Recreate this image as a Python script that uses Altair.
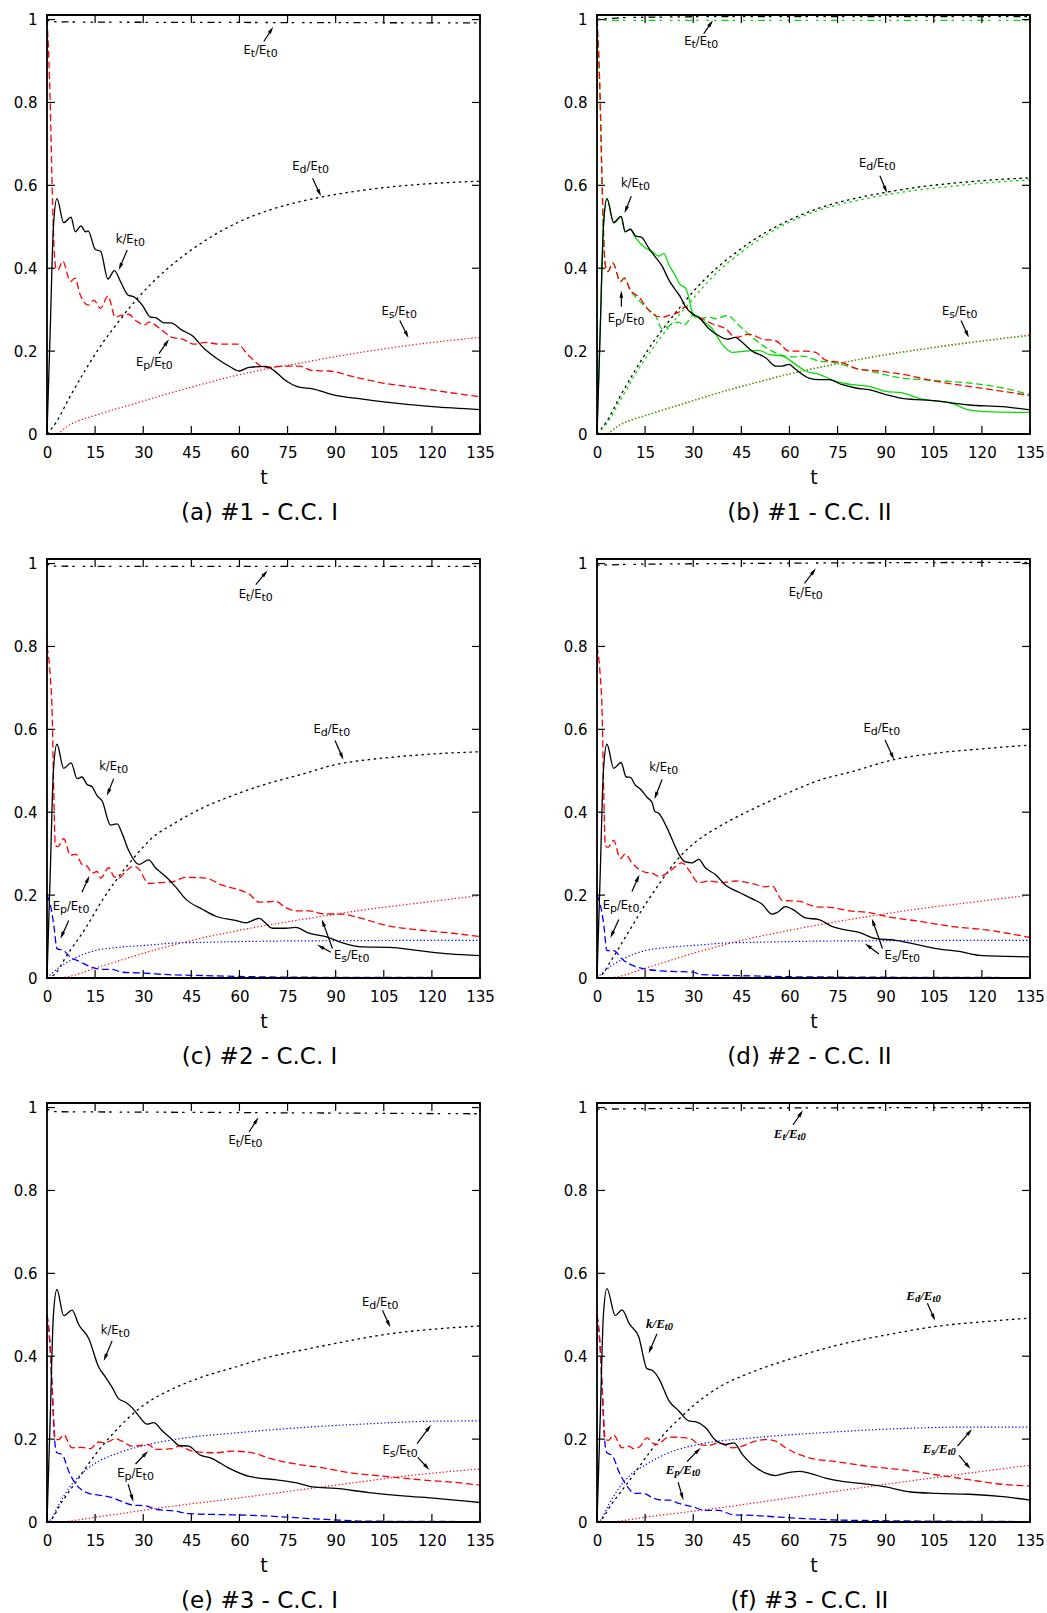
import math
import pandas as pd
import altair as alt

# ---------------- layout / axes ----------------
W, H = 433, 419
XMAX, YMAX = 135, 1.011
XT = [0, 15, 30, 45, 60, 75, 90, 105, 120, 135]
YT = [0, 0.2, 0.4, 0.6, 0.8, 1.0]
CAPTIONS = ["(a) #1 - C.C. I", "(b) #1 - C.C. II", "(c) #2 - C.C. I",
            "(d) #2 - C.C. II", "(e) #3 - C.C. I", "(f) #3 - C.C. II"]

RED, BLUE, GREEN, BLACK = "#ff0000", "#0000ff", "#00dd00", "#000000"

# ---------------- data: (t, value) pairs ----------------
# panel (a)
A_ET = [(0, 1.0), (1.5, 0.995), (10, 0.994), (60, 0.993), (135, 0.992)]
A_K = [(0, 0), (1, 0.25), (2, 0.5), (3.1, 0.568), (5.2, 0.51), (7.5, 0.523), (8.8, 0.488), (10.6, 0.502),
       (12, 0.488), (12.8, 0.49), (15.1, 0.445), (16.7, 0.441), (19, 0.374), (21, 0.394), (22.9, 0.368),
       (25.3, 0.335), (27.1, 0.331), (29.7, 0.311), (32.3, 0.282), (33.8, 0.281), (36.6, 0.268), (38.5, 0.268),
       (42.2, 0.25), (45.3, 0.237), (48.9, 0.207), (52.6, 0.184), (56.7, 0.164), (59.9, 0.152), (63, 0.161),
       (68.2, 0.163), (70.8, 0.153), (74.4, 0.129), (78.6, 0.113), (82.8, 0.109), (89, 0.095), (98.4, 0.084),
       (105.7, 0.077), (120.2, 0.066), (135, 0.059)]
A_EP = [(0, 1.0), (0.6, 0.9), (1, 0.8), (1.6, 0.6), (2.2, 0.45), (2.8, 0.4), (3.4, 0.396), (4.9, 0.417),
        (7.3, 0.368), (8.7, 0.376), (10.4, 0.335), (12.8, 0.311), (14.6, 0.323), (16.7, 0.303), (19, 0.333),
        (21.3, 0.282), (22.9, 0.286), (25.5, 0.289), (27.6, 0.274), (30.7, 0.264), (31.7, 0.27), (35.9, 0.25),
        (39, 0.233), (42.2, 0.229), (45.8, 0.217), (49.4, 0.221), (53.6, 0.217), (59.3, 0.217), (63, 0.188),
        (68.2, 0.16), (73.4, 0.164), (78.6, 0.164), (82.8, 0.153), (87.9, 0.152), (95.2, 0.139),
        (104.6, 0.123), (116, 0.111), (125.4, 0.1), (135, 0.09)]
A_ED = [(0, 0), (3, 0.03), (6.8, 0.085), (12, 0.155), (17.2, 0.218), (22.4, 0.272), (27.6, 0.322),
        (32.8, 0.365), (38, 0.402), (43.2, 0.434), (48.4, 0.462), (58.8, 0.508), (69.2, 0.54), (79.6, 0.562),
        (90, 0.578), (100.4, 0.59), (110.9, 0.599), (121.3, 0.605), (135, 0.61)]
A_ES = [(0, 0), (2.5, 0.0), (6.8, 0.021), (17.2, 0.05), (27.6, 0.074), (38, 0.098), (48.4, 0.12),
        (58.8, 0.141), (69.2, 0.158), (79.6, 0.172), (90, 0.187), (100.4, 0.2), (110.9, 0.212),
        (121.3, 0.222), (135, 0.233)]

# panel (b)  (black = reference run, green = second run)
B_ET = [(0, 1.0), (10, 1.005), (40, 1.007), (135, 1.007)]
B_ET_G = [(0, 1.0), (5, 0.998), (135, 0.998)]
B_K = [(0, 0), (1, 0.25), (2, 0.5), (3.1, 0.568), (5.2, 0.51), (7.5, 0.525), (8.8, 0.488), (10.4, 0.494),
       (12, 0.478), (14, 0.474), (16.1, 0.449), (17.2, 0.437), (20.3, 0.405), (22.4, 0.372), (24.5, 0.347),
       (26, 0.331), (27.6, 0.307), (29.7, 0.29), (31.7, 0.282), (34.9, 0.254), (38, 0.237), (40.6, 0.229),
       (43.2, 0.233), (44.7, 0.225), (48.4, 0.2), (52.6, 0.184), (55.7, 0.164), (57.8, 0.164), (59.9, 0.168),
       (61.9, 0.156), (66.1, 0.135), (69.2, 0.131), (72.3, 0.131), (76.5, 0.119), (80.7, 0.111), (84.8, 0.107),
       (90, 0.095), (95.2, 0.086), (105.7, 0.08), (116, 0.07), (126.5, 0.066), (135, 0.058)]
B_K_G = [(0, 0), (1, 0.25), (2, 0.5), (3.1, 0.568), (5.2, 0.51), (7.5, 0.525), (8.8, 0.488), (10.4, 0.494),
         (12, 0.474), (15.1, 0.449), (17.2, 0.44), (19.3, 0.429), (20.8, 0.436), (22.4, 0.409), (24, 0.388),
         (26, 0.36), (27.6, 0.352), (28.6, 0.331), (29.7, 0.294), (32.8, 0.274), (35.9, 0.254), (39, 0.217),
         (42.2, 0.197), (46.3, 0.2), (50.5, 0.202), (53.6, 0.192), (57.8, 0.188), (61.9, 0.168), (65, 0.152),
         (69.2, 0.144), (74.4, 0.127), (79.6, 0.119), (84.8, 0.115), (90, 0.103), (95.2, 0.099),
         (100.4, 0.086), (110.9, 0.073), (116, 0.058), (121.3, 0.054), (135, 0.052)]
B_EP = [(0, 1.0), (0.6, 0.9), (1, 0.8), (1.6, 0.6), (2.2, 0.45), (2.8, 0.4), (3.4, 0.392), (4.9, 0.413),
        (7.3, 0.368), (8.5, 0.376), (10.4, 0.347), (13, 0.331), (16.1, 0.299), (18.2, 0.286), (20.3, 0.282),
        (22.4, 0.286), (25.5, 0.294), (27.6, 0.307), (29.7, 0.29), (32.8, 0.278), (35.9, 0.266), (40.1, 0.254),
        (43.2, 0.233), (47.4, 0.241), (51.5, 0.229), (55.7, 0.225), (59.9, 0.2), (65, 0.2), (68.2, 0.197),
        (71.3, 0.178), (76.5, 0.172), (81.7, 0.156), (87.9, 0.152), (95.2, 0.144), (105.7, 0.127),
        (116, 0.115), (126.5, 0.103), (135, 0.093)]
B_EP_G = [(0, 1.0), (0.6, 0.9), (1, 0.8), (1.6, 0.6), (2.2, 0.45), (2.8, 0.4), (3.4, 0.392), (4.9, 0.413),
          (7.3, 0.368), (8.5, 0.376), (10.4, 0.347), (13, 0.323), (16.1, 0.3), (18.2, 0.286), (20.3, 0.254),
          (21.9, 0.258), (23.4, 0.266), (25.5, 0.27), (27, 0.262), (28.6, 0.274), (29.7, 0.286), (31.7, 0.278),
          (34.9, 0.282), (37, 0.278), (40.6, 0.286), (44.3, 0.262), (48.4, 0.233), (52.6, 0.209), (56.7, 0.192),
          (61, 0.186), (64, 0.188), (69.2, 0.176), (74.4, 0.172), (79.6, 0.16), (84.8, 0.152), (95.2, 0.135),
          (105.7, 0.129), (116, 0.123), (126.5, 0.111), (135, 0.095)]
B_ED = [(0, 0), (3, 0.03), (6.8, 0.085), (12, 0.155), (17.2, 0.218), (22.4, 0.272), (27.6, 0.322),
        (32.8, 0.367), (38, 0.405), (43.2, 0.437), (48.4, 0.466), (58.8, 0.512), (69.2, 0.545), (79.6, 0.567),
        (90, 0.583), (100.4, 0.596), (110.9, 0.605), (121.3, 0.612), (135, 0.618)]
B_ED_G = [(0, 0), (3, 0.025), (6.8, 0.075), (12, 0.145), (17.2, 0.205), (22.4, 0.258), (27.6, 0.305),
          (32.8, 0.352), (38, 0.394), (43.2, 0.428), (48.4, 0.458), (58.8, 0.507), (69.2, 0.54), (79.6, 0.561),
          (90, 0.577), (100.4, 0.589), (110.9, 0.598), (121.3, 0.606), (135, 0.613)]
B_ES = [(0, 0), (2.5, 0), (6.8, 0.021), (17.2, 0.05), (27.6, 0.075), (38, 0.1), (48.4, 0.122), (58.8, 0.143),
        (69.2, 0.161), (79.6, 0.177), (90, 0.192), (100.4, 0.204), (110.9, 0.216), (121.3, 0.226), (135, 0.239)]
B_ES_G = [(0, 0), (2.5, 0), (6.8, 0.02), (17.2, 0.049), (27.6, 0.074), (38, 0.099), (48.4, 0.121),
          (58.8, 0.142), (69.2, 0.16), (79.6, 0.176), (90, 0.19), (100.4, 0.203), (110.9, 0.214),
          (121.3, 0.225), (135, 0.237)]

# panel (c)
C_ET = [(0, 1.0), (1.5, 0.994), (20, 0.993), (135, 0.993)]
C_K = [(0, 0), (1, 0.25), (2, 0.5), (3.1, 0.564), (5.2, 0.506), (7.5, 0.519), (9.4, 0.481), (10.9, 0.485),
       (12.5, 0.467), (14, 0.462), (15.6, 0.44), (17.2, 0.427), (19.8, 0.369), (21.9, 0.372), (23.4, 0.349),
       (25.5, 0.307), (28.6, 0.274), (31.7, 0.285), (33.8, 0.266), (37, 0.245), (40.1, 0.22), (43.2, 0.191),
       (48.4, 0.166), (52.6, 0.149), (58.8, 0.139), (61.9, 0.133), (66.1, 0.144), (70.3, 0.12), (74.4, 0.12),
       (77.5, 0.122), (81.7, 0.108), (86.9, 0.1), (92.1, 0.085), (98.4, 0.075), (106.7, 0.074), (116, 0.066),
       (125.4, 0.058), (135, 0.054)]
C_EP = [(0, 0.8), (1, 0.73), (1.6, 0.64), (2.1, 0.45), (2.6, 0.32), (3.4, 0.317), (5.2, 0.336), (7.3, 0.296),
        (9, 0.299), (10.9, 0.274), (12.5, 0.27), (14, 0.253), (15.6, 0.257), (16.7, 0.241), (19.3, 0.266),
        (20.8, 0.245), (22.4, 0.241), (24.5, 0.257), (27.1, 0.27), (28.6, 0.263), (31.7, 0.228), (34.9, 0.23),
        (39, 0.232), (43.2, 0.243), (49.4, 0.241), (54.6, 0.224), (60.9, 0.21), (63, 0.203), (66.1, 0.183),
        (69.2, 0.184), (71.3, 0.185), (74.4, 0.17), (77.5, 0.162), (81.7, 0.162), (85.9, 0.155), (92.1, 0.154),
        (98.4, 0.143), (105.7, 0.127), (116, 0.116), (126.5, 0.108), (135, 0.1)]
C_EP_B = [(0, 0.2), (1, 0.178), (2.1, 0.129), (3.1, 0.071), (5.2, 0.066), (7.3, 0.05), (9.9, 0.041),
          (13, 0.029), (17.2, 0.021), (20.3, 0.021), (23.4, 0.014), (29.7, 0.012), (38, 0.008), (48.4, 0.006),
          (58.8, 0.004), (74.4, 0.002), (135, 0.001)]
C_ED = [(0, 0), (1.6, 0.004), (6.8, 0.062), (12, 0.12), (17.2, 0.187), (22.4, 0.245), (27.6, 0.295),
        (32.8, 0.338), (40.1, 0.375), (48.4, 0.41), (58.8, 0.443), (69.2, 0.47), (79.6, 0.492), (90, 0.515),
        (100.4, 0.527), (110.9, 0.535), (121.3, 0.541), (135, 0.546)]
C_ES = [(0, 0), (3, 0), (17.2, 0.029), (27.6, 0.054), (44.2, 0.089), (60, 0.115), (85.9, 0.149),
        (100.4, 0.166), (115, 0.18), (135, 0.199)]
C_ES_B = [(0, 0), (3, 0.021), (8.7, 0.048), (13.9, 0.064), (22.4, 0.074), (32.8, 0.08), (38.9, 0.084),
          (48.4, 0.086), (69.2, 0.089), (90, 0.09), (135, 0.091)]

# panel (d)
D_ET = [(0, 0.996), (10, 0.998), (40, 1.0), (135, 1.003)]
D_K = [(0, 0), (1, 0.25), (2, 0.5), (3.1, 0.564), (5.2, 0.506), (7.5, 0.52), (9.1, 0.485), (10.4, 0.484),
       (12, 0.465), (13.5, 0.456), (15.6, 0.436), (17.2, 0.423), (18, 0.402), (19.3, 0.397), (21.9, 0.361),
       (24, 0.324), (25.5, 0.299), (27.6, 0.28), (29.7, 0.278), (31.7, 0.286), (33.8, 0.266), (37, 0.249),
       (40.1, 0.224), (44.2, 0.207), (48.4, 0.191), (51.5, 0.178), (54.6, 0.154), (56.2, 0.158), (58.8, 0.172),
       (60.9, 0.166), (65, 0.145), (69.2, 0.141), (73.4, 0.124), (77.5, 0.116), (81.7, 0.11), (86.9, 0.095),
       (93.2, 0.091), (98.4, 0.083), (105.7, 0.071), (112.9, 0.064), (120.2, 0.054), (135, 0.051)]
D_EP = [(0, 0.8), (1, 0.73), (1.6, 0.64), (2.1, 0.45), (2.6, 0.32), (3.4, 0.315), (5.2, 0.332), (7.3, 0.288),
        (8.8, 0.299), (10.9, 0.278), (13, 0.263), (15.1, 0.255), (17.2, 0.253), (19.3, 0.245), (21.9, 0.253),
        (24, 0.266), (26.5, 0.278), (28.6, 0.261), (31.7, 0.23), (34.9, 0.234), (39, 0.23), (43.2, 0.234),
        (48.4, 0.228), (52.6, 0.22), (54.6, 0.222), (57.8, 0.187), (63, 0.185), (68.2, 0.172), (73.4, 0.17),
        (78.6, 0.162), (84.8, 0.158), (91.1, 0.147), (100.4, 0.137), (110.9, 0.124), (121.3, 0.116),
        (135, 0.098)]
D_EP_B = [(0, 0.2), (1, 0.178), (2.1, 0.129), (3.1, 0.066), (5.2, 0.066), (7.8, 0.046), (13, 0.025),
          (20.3, 0.017), (29.7, 0.014), (32.8, 0.008), (48.4, 0.005), (60, 0.003), (135, 0.001)]
D_ED = [(0, 0), (1, 0.004), (4.7, 0.046), (9.9, 0.112), (15.1, 0.178), (20.3, 0.237), (25.5, 0.29),
        (30.7, 0.328), (38, 0.365), (48.4, 0.407), (58.8, 0.444), (69.2, 0.477), (79.6, 0.498), (92.6, 0.527),
        (105, 0.542), (120, 0.553), (135, 0.562)]
D_ES = [(0, 0), (3, 0), (17.2, 0.029), (27.6, 0.054), (44.2, 0.089), (60, 0.115), (85.9, 0.15),
        (100.4, 0.167), (115, 0.181), (135, 0.2)]
D_ES_B = [(0, 0), (3, 0.021), (8.7, 0.048), (13.9, 0.064), (22.4, 0.074), (32.8, 0.08), (38.9, 0.084),
          (48.4, 0.086), (69.2, 0.089), (90, 0.09), (135, 0.091)]

# panel (e)
E_ET = [(0, 0.996), (3, 0.99), (30, 0.989), (135, 0.985)]
E_K = [(0, 0), (1, 0.25), (2, 0.5), (3.1, 0.561), (5.2, 0.498), (7.8, 0.511), (9.9, 0.476), (13, 0.443),
       (16.1, 0.374), (18.2, 0.35), (20.3, 0.325), (22.4, 0.297), (24.5, 0.289), (26.5, 0.276), (28.6, 0.256),
       (31.2, 0.236), (33.3, 0.24), (35.9, 0.22), (39, 0.199), (41.1, 0.185), (44.2, 0.183), (47.4, 0.163),
       (51.5, 0.153), (56.7, 0.13), (63, 0.11), (66.1, 0.106), (71.3, 0.102), (77.5, 0.095), (82.8, 0.085),
       (90, 0.081), (100.4, 0.071), (110.9, 0.063), (121.3, 0.057), (135, 0.047)]
E_EP = [(0, 0.5), (1, 0.42), (1.6, 0.325), (2.6, 0.199), (3.6, 0.199), (5.2, 0.21), (7.8, 0.179),
        (10.9, 0.18), (13.5, 0.177), (16.1, 0.193), (18.2, 0.191), (21.3, 0.201), (23.4, 0.195), (26.5, 0.183),
        (29.7, 0.185), (31.7, 0.187), (33.8, 0.175), (39, 0.177), (41.1, 0.183), (45.3, 0.171), (52.6, 0.167),
        (57.8, 0.171), (64, 0.167), (69.2, 0.154), (77.5, 0.14), (84.8, 0.132), (95.2, 0.118), (105.7, 0.11),
        (116, 0.102), (126.5, 0.096), (135, 0.089)]
E_EP_B = [(0, 0.5), (1, 0.42), (1.6, 0.325), (2.4, 0.195), (3.1, 0.167), (4.7, 0.163), (6.8, 0.122),
          (8.8, 0.093), (10.9, 0.077), (13, 0.069), (16.1, 0.065), (20.3, 0.059), (23.4, 0.049), (26.5, 0.041),
          (30.7, 0.039), (33.8, 0.031), (40.1, 0.026), (44.2, 0.02), (53.6, 0.018), (64, 0.016), (74.4, 0.012),
          (84.8, 0.007), (100.4, 0.002), (135, 0.001)]
E_ED = [(0, 0), (1, 0.004), (4.7, 0.049), (9.9, 0.106), (15.1, 0.163), (20.3, 0.211), (25.5, 0.252),
        (30.7, 0.285), (38, 0.317), (48.4, 0.35), (58.8, 0.374), (69.2, 0.398), (79.6, 0.415), (90, 0.431),
        (106.7, 0.454), (120, 0.465), (135, 0.473)]
E_ES_B = [(0, 0), (1, 0.004), (3.6, 0.041), (6.8, 0.081), (9.9, 0.11), (15.1, 0.142), (22.4, 0.167),
          (32.8, 0.189), (43.2, 0.203), (58.8, 0.215), (79.6, 0.228), (100.4, 0.237), (119.2, 0.243),
          (135, 0.244)]
E_ES = [(0, 0), (2.6, 0), (17.2, 0.014), (38, 0.037), (58.8, 0.057), (90, 0.089), (119, 0.117), (135, 0.128)]

# panel (f)
F_ET = [(0, 0.996), (10, 0.997), (60, 0.999), (135, 1.0)]
F_K = [(0, 0), (1, 0.25), (2, 0.5), (3.1, 0.563), (5.7, 0.498), (7.8, 0.512), (10.1, 0.478), (13, 0.447),
       (15.6, 0.37), (17.2, 0.366), (19.3, 0.346), (22.4, 0.293), (25.5, 0.268), (28.6, 0.244), (30.7, 0.242),
       (33.8, 0.228), (37, 0.197), (40.1, 0.187), (42.7, 0.191), (45.3, 0.163), (48.4, 0.138), (52.6, 0.118),
       (55.7, 0.112), (58.8, 0.118), (63, 0.122), (66.1, 0.118), (71.3, 0.106), (76.5, 0.098), (84.8, 0.091),
       (90, 0.085), (97.3, 0.073), (105.7, 0.069), (116, 0.067), (126.5, 0.061), (135, 0.053)]
F_EP = [(0, 0.5), (1, 0.42), (1.6, 0.325), (2.6, 0.199), (3.6, 0.197), (5.2, 0.21), (7.8, 0.179), (9.9, 0.183),
        (11.4, 0.177), (13.5, 0.183), (15.6, 0.203), (17.2, 0.191), (18.7, 0.187), (22.4, 0.205), (27.6, 0.203),
        (29.7, 0.199), (31.7, 0.187), (34.9, 0.185), (38, 0.191), (42.2, 0.179), (45.3, 0.183), (48.4, 0.193),
        (52.6, 0.199), (55.7, 0.195), (58.8, 0.179), (63, 0.163), (67.1, 0.153), (74.4, 0.146), (84.8, 0.134),
        (95.2, 0.126), (105.7, 0.114), (116, 0.102), (126.5, 0.091), (135, 0.087)]
F_EP_B = [(0, 0.5), (1, 0.42), (1.6, 0.325), (2.4, 0.195), (3.1, 0.167), (4.7, 0.161), (6.8, 0.122),
          (8.8, 0.093), (12, 0.069), (14.6, 0.069), (17.2, 0.059), (20.3, 0.053), (22.4, 0.053), (25.5, 0.045),
          (29.7, 0.037), (33.8, 0.028), (38, 0.028), (42.2, 0.018), (48.4, 0.016), (56.7, 0.012), (65, 0.008),
          (79.6, 0.004), (135, 0.001)]
F_ED = [(0, 0), (1, 0.004), (4.7, 0.045), (9.9, 0.098), (15.1, 0.154), (20.3, 0.207), (25.5, 0.248),
        (30.7, 0.285), (38, 0.325), (48.4, 0.362), (58.8, 0.39), (69.2, 0.415), (79.6, 0.435), (90, 0.451),
        (105.7, 0.472), (120, 0.483), (135, 0.492)]
F_ES_B = [(0, 0), (1, 0.004), (3.6, 0.041), (6.8, 0.081), (9.9, 0.11), (15.1, 0.138), (22.4, 0.167),
          (32.8, 0.189), (48.4, 0.203), (69.2, 0.215), (90, 0.224), (116, 0.229), (135, 0.229)]
F_ES = [(0, 0), (2.6, 0), (17.2, 0.014), (38, 0.034), (58.8, 0.057), (90, 0.091), (116, 0.118), (135, 0.137)]

# annotation labels (name, t, value) and arrows (t1, v1, t2, v2)
A_LABELS = [("Et", 66.6, 0.925), ("k", 26, 0.467), ("Ep", 33.5, 0.172), ("Ed", 82.2, 0.644), ("Es", 109.8, 0.294)]
A_ARROWS = [(67.6, 0.947, 70.5, 0.982), (25, 0.444, 22.4, 0.396), (34.9, 0.194, 38, 0.228),
            (82.8, 0.617, 85.4, 0.574), (110, 0.274, 112.7, 0.232)]
B_LABELS = [("Et", 32.5, 0.945), ("k", 12, 0.603), ("Ep", 9.1, 0.277), ("Ed", 87.4, 0.651), ("Es", 113.1, 0.294)]
B_ARROWS = [(33.3, 0.966, 36.1, 0.998), (10.7, 0.574, 8.6, 0.533), (7.6, 0.307, 7.6, 0.346),
            (88.2, 0.623, 90.4, 0.582), (113.5, 0.274, 115.9, 0.233)]
C_LABELS = [("Et", 65.1, 0.925), ("k", 20.8, 0.508), ("Ep", 7.5, 0.172), ("Ed", 88.8, 0.598), ("Es", 95, 0.054)]
C_ARROWS = [(65.1, 0.949, 68.7, 0.983), (20.8, 0.481, 18.7, 0.44), (10.9, 0.207, 13.2, 0.246),
            (6.8, 0.139, 4.2, 0.095), (89.8, 0.573, 92.4, 0.527), (89, 0.071, 85.7, 0.141),
            (88.5, 0.062, 84.3, 0.08)]
D_LABELS = [("Et", 65.1, 0.928), ("k", 20.8, 0.506), ("Ep", 7.5, 0.174), ("Ed", 88.8, 0.6), ("Es", 95.2, 0.052)]
D_ARROWS = [(64.7, 0.952, 68.2, 0.988), (20.3, 0.479, 17.9, 0.432), (10.9, 0.209, 13.2, 0.249),
            (6.8, 0.141, 4.2, 0.097), (89.8, 0.574, 92.6, 0.527), (89, 0.071, 85.7, 0.143),
            (87.9, 0.058, 83.6, 0.083)]
E_LABELS = [("Et", 61.9, 0.919), ("k", 21.3, 0.462), ("Ep", 27.6, 0.115), ("Ed", 103.9, 0.528), ("Es", 110.1, 0.172)]
E_ARROWS = [(63, 0.941, 65.9, 0.976), (20.3, 0.437, 17.7, 0.389), (27.6, 0.14, 31.5, 0.171),
            (25.3, 0.091, 26.9, 0.049), (104.6, 0.511, 107, 0.47), (115.4, 0.189, 119.7, 0.234),
            (115.6, 0.156, 119.2, 0.126)]
F_LABELS = [("Et", 60.1, 0.935), ("k", 19.5, 0.478), ("Ep", 26.8, 0.126), ("Ed", 101.8, 0.545), ("Es", 106.7, 0.175)]
F_ARROWS = [(61.1, 0.958, 64.2, 0.993), (18.7, 0.454, 16.1, 0.407), (28.1, 0.146, 32.3, 0.179),
            (25.3, 0.096, 26.9, 0.053), (103, 0.528, 105.4, 0.486), (112.4, 0.183, 116.9, 0.224),
            (112.9, 0.161, 116.4, 0.128)]

LABEL_PARTS = {
    "Et": [("E", 0), ("t", 1), ("/E", 0), ("t0", 1)],
    "k": [("k/E", 0), ("t0", 1)],
    "Ep": [("E", 0), ("p", 1), ("/E", 0), ("t0", 1)],
    "Ed": [("E", 0), ("d", 1), ("/E", 0), ("t0", 1)],
    "Es": [("E", 0), ("s", 1), ("/E", 0), ("t0", 1)],
}

# ---------------- styles ----------------
STYLES = {
    "solid": dict(strokeWidth=1.3),
    "dash": dict(strokeWidth=1.3, strokeDash=[7, 3.5]),
    "dot": dict(strokeWidth=1.3, strokeDash=[2.5, 3.5]),
    "fine": dict(strokeWidth=1.2, strokeDash=[1.3, 2.2]),
    "total": dict(strokeWidth=1.3, strokeDash=[2.5, 5, 2.5, 5, 7, 4, 2.5, 8]),
}
SANS = dict(font="DejaVu Sans", size=11.5, sub=11, dy=3,
            w={"E": .632, "k": .579, "/": .337, "t": .392, "0": .636, "d": .635, "p": .635, "s": .521})
SERIF = dict(font="Liberation Serif", size=13, sub=10.5, dy=3,
             w={"E": .667, "k": .5, "/": .278, "t": .278, "0": .5, "d": .5, "p": .5, "s": .389})

PANELS = [
    dict(lines=[(A_ET, BLACK, "total"), (A_ED, BLACK, "dot"), (A_ES, RED, "fine"), (A_EP, RED, "dash"),
                (A_K, BLACK, "solid")], labels=A_LABELS, arrows=A_ARROWS, fontset=SANS),
    dict(lines=[(B_ET, BLACK, "total"), (B_ET_G, GREEN, "total"), (B_ED, BLACK, "dot"), (B_ED_G, GREEN, "dot"),
                (B_ES, RED, "fine"), (B_ES_G, GREEN, "fine"), (B_EP_G, GREEN, "dash"), (B_EP, RED, "dash"),
                (B_K_G, GREEN, "solid"), (B_K, BLACK, "solid")], labels=B_LABELS, arrows=B_ARROWS, fontset=SANS),
    dict(lines=[(C_ET, BLACK, "total"), (C_ED, BLACK, "dot"), (C_ES, RED, "fine"), (C_ES_B, BLUE, "fine"),
                (C_EP_B, BLUE, "dash"), (C_EP, RED, "dash"), (C_K, BLACK, "solid")],
         labels=C_LABELS, arrows=C_ARROWS, fontset=SANS),
    dict(lines=[(D_ET, BLACK, "total"), (D_ED, BLACK, "dot"), (D_ES, RED, "fine"), (D_ES_B, BLUE, "fine"),
                (D_EP_B, BLUE, "dash"), (D_EP, RED, "dash"), (D_K, BLACK, "solid")],
         labels=D_LABELS, arrows=D_ARROWS, fontset=SANS),
    dict(lines=[(E_ET, BLACK, "total"), (E_ED, BLACK, "dot"), (E_ES, RED, "fine"), (E_ES_B, BLUE, "fine"),
                (E_EP_B, BLUE, "dash"), (E_EP, RED, "dash"), (E_K, BLACK, "solid")],
         labels=E_LABELS, arrows=E_ARROWS, fontset=SANS),
    dict(lines=[(F_ET, BLACK, "total"), (F_ED, BLACK, "dot"), (F_ES, RED, "fine"), (F_ES_B, BLUE, "fine"),
                (F_EP_B, BLUE, "dash"), (F_EP, RED, "dash"), (F_K, BLACK, "solid")],
         labels=F_LABELS, arrows=F_ARROWS, fontset=SERIF),
]

# ---------------- encodings ----------------
X = alt.X("t:Q", scale=alt.Scale(domain=[0, XMAX], nice=False, zero=False),
          axis=alt.Axis(values=XT, title="t", grid=False, ticks=False, tickSize=0, domain=False,
                        labelFont="DejaVu Sans", labelFontSize=15, labelColor="black", labelPadding=11,
                        labelFlush=False, labelOverlap=False,
                        titleFont="DejaVu Sans", titleFontSize=19, titleFontWeight="normal",
                        titleColor="black", titlePadding=8))
Y = alt.Y("v:Q", scale=alt.Scale(domain=[0, YMAX], nice=False, zero=False),
          axis=alt.Axis(values=YT, title=None, grid=False, ticks=False, tickSize=0, domain=False, format="~g",
                        labelFont="DejaVu Sans", labelFontSize=15, labelColor="black", labelPadding=10,
                        labelFlush=False, labelOverlap=False))

SX, SY = W / XMAX, H / YMAX


def text_width(s, fs, size):
    return sum(fs["w"].get(c, 0.6) for c in s) * size


def make_panel(spec, caption):
    layers = []
    for pts, color, kind in spec["lines"]:
        df = pd.DataFrame(pts, columns=["t", "v"])
        layers.append(alt.Chart(df).mark_line(color=color, interpolate="monotone", **STYLES[kind])
                      .encode(x=X, y=Y))
    # mirrored inward ticks
    xt = pd.DataFrame({"t": XT})
    yt = pd.DataFrame({"v": YT})
    tk = dict(color="black", strokeWidth=1.2)
    layers.append(alt.Chart(xt).mark_rule(**tk).encode(x=X, y=alt.value(H), y2=alt.value(H - 8)))
    layers.append(alt.Chart(xt).mark_rule(**tk).encode(x=X, y=alt.value(0), y2=alt.value(8)))
    layers.append(alt.Chart(yt).mark_rule(**tk).encode(y=Y, x=alt.value(0), x2=alt.value(8)))
    layers.append(alt.Chart(yt).mark_rule(**tk).encode(y=Y, x=alt.value(W), x2=alt.value(W - 8)))
    # plot frame
    layers.append(alt.Chart(pd.DataFrame({"t": [0]})).mark_rect(fill="transparent", stroke="black",
                                                                 strokeWidth=1.8)
                  .encode(x=alt.value(0), x2=alt.value(W), y=alt.value(0), y2=alt.value(H)))
    # arrows
    for (t1, v1, t2, v2) in spec["arrows"]:
        dxp = (t2 - t1) * SX
        dyp = -(v2 - v1) * SY
        L = math.hypot(dxp, dyp)
        ux, uy = dxp / L, dyp / L
        ang = math.degrees(math.atan2(ux, -uy)) % 360
        ht = t2 - 3.5 * ux / SX
        hv = v2 + 3.5 * uy / SY
        adf = pd.DataFrame({"t": [t1], "v": [v1], "t2": [t2 - 3 * ux / SX], "v2": [v2 + 3 * uy / SY]})
        layers.append(alt.Chart(adf).mark_rule(color="black", strokeWidth=1.2)
                      .encode(x=X, y=Y, x2=alt.X2("t2"), y2=alt.Y2("v2")))
        hdf = pd.DataFrame({"t": [ht], "v": [hv]})
        layers.append(alt.Chart(hdf).mark_point(shape="M0,-1L0.5,1L-0.5,1Z", filled=True, size=55,
                                                color="black", opacity=1, angle=ang, strokeWidth=0)
                      .encode(x=X, y=Y))
    # labels made of normal and subscript parts
    fs = spec["fontset"]
    serif = fs is SERIF
    for name, t, v in spec["labels"]:
        parts = LABEL_PARTS[name]
        widths = [text_width(p, fs, fs["sub"] if s else fs["size"]) for p, s in parts]
        x0 = -sum(widths) / 2
        ldf = pd.DataFrame({"t": [t], "v": [v]})
        for (p, s), w in zip(parts, widths):
            kw = dict(text=p, align="left", baseline="middle", dx=x0, dy=fs["dy"] if s else 0,
                      font=fs["font"], fontSize=fs["sub"] if s else fs["size"], color="black")
            if serif:
                kw["fontStyle"] = "italic"
                kw["fontWeight"] = "bold"
            layers.append(alt.Chart(ldf).mark_text(**kw).encode(x=X, y=Y))
            x0 += w
    return alt.layer(*layers).properties(
        width=W, height=H,
        title=alt.TitleParams(caption, orient="bottom", anchor="middle", font="DejaVu Sans", fontSize=23,
                              fontWeight="normal", color="black", offset=15, dx=-4))


charts = [make_panel(s, c) for s, c in zip(PANELS, CAPTIONS)]
chart = alt.concat(*charts, columns=2, spacing={"row": 125, "column": 117}, bounds="flush").properties(
    padding={"left": 12, "top": 12, "right": 2, "bottom": 2}
).configure_view(stroke="black", strokeWidth=1.8).configure(background="white")

chart.save("out.html", embed_options={"renderer": "svg", "actions": False})
